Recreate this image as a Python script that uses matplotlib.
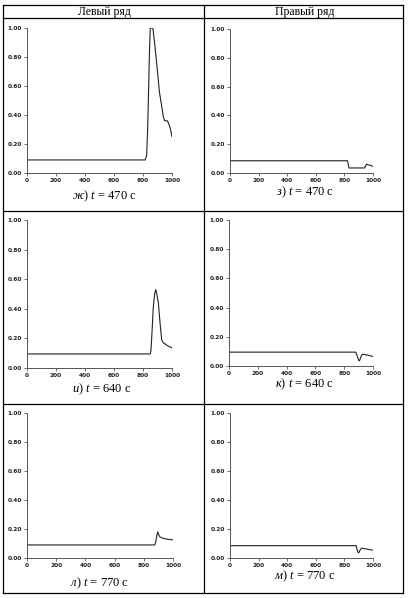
import matplotlib
matplotlib.use("Agg")
import matplotlib.pyplot as plt
from matplotlib.lines import Line2D

plt.rcParams['mathtext.fontset'] = 'custom'
plt.rcParams['mathtext.rm'] = 'Liberation Serif'
plt.rcParams['mathtext.it'] = 'Liberation Serif:italic'

W, H = 413, 598

# Данные
x_zh = [0, 815, 825, 832, 838, 845, 850, 868, 883, 899, 913, 929, 940, 949, 968, 981, 990, 1000]
y_zh = [0.09, 0.09, 0.12, 0.30, 0.55, 0.85, 1.00, 1.00, 0.87, 0.71, 0.56, 0.46, 0.39, 0.36, 0.36, 0.33, 0.30, 0.25]

x_z = [0, 822, 827, 832, 942, 948, 956, 966, 980, 1000]
y_z = [0.085, 0.085, 0.06, 0.035, 0.035, 0.05, 0.062, 0.056, 0.054, 0.046]

x_i = [0, 850, 855, 862, 871, 880, 888, 895, 906, 917, 929, 940, 963, 980, 1000]
y_i = [0.095, 0.095, 0.12, 0.24, 0.41, 0.50, 0.53, 0.50, 0.44, 0.31, 0.19, 0.17, 0.155, 0.145, 0.135]

x_k = [0, 880, 890, 900, 906, 915, 925, 935, 960, 1000]
y_k = [0.095, 0.095, 0.07, 0.04, 0.035, 0.06, 0.08, 0.08, 0.075, 0.065]

x_l = [0, 875, 882, 888, 895, 902, 911, 934, 960, 1000]
y_l = [0.09, 0.09, 0.11, 0.15, 0.18, 0.16, 0.145, 0.135, 0.13, 0.125]

x_m = [0, 882, 888, 895, 900, 910, 919, 953, 1000]
y_m = [0.085, 0.085, 0.06, 0.04, 0.035, 0.055, 0.068, 0.062, 0.054]

x_ticks = [0, 200, 400, 600, 800, 1000]
y_ticks = [0.0, 0.2, 0.4, 0.6, 0.8, 1.0]

headers = ["Левый ряд", "Правый ряд"]
captions = [r"$ж$) $t$ = 470 с", r"$з$) $t$ = 470 с",
            r"$и$) $t$ = 640 с", r"$к$) $t$ = 640 с",
            r"$л$) $t$ = 770 с", r"$м$) $t$ = 770 с"]

fig = plt.figure(figsize=(W / 100, H / 100), dpi=100)


def fx(px):
    return px / W


def fy(py):
    return 1 - py / H


# таблица
lw_t = 0.9
for py in [5, 18, 211, 404, 593]:
    fig.add_artist(Line2D([fx(3), fx(403)], [fy(py), fy(py)], color='black', lw=lw_t))
for px in [3, 204, 403]:
    fig.add_artist(Line2D([fx(px), fx(px)], [fy(5), fy(593)], color='black', lw=lw_t))

fig.text(fx(104), fy(12), headers[0], ha='center', va='center',
         family='Liberation Serif', fontsize=8.5)
fig.text(fx(305), fy(12), headers[1], ha='center', va='center',
         family='Liberation Serif', fontsize=8.5)

# (left, right, top, bottom) в пикселях и подпись
panels = [
    (x_zh, y_zh, (27, 172, 28, 173), (104, 196)),
    (x_z, y_z, (230, 373, 29, 173), (305, 192)),
    (x_i, y_i, (27, 172, 220, 368), (102, 389)),
    (x_k, y_k, (229, 373, 220, 366), (304, 384)),
    (x_l, y_l, (27, 173, 413, 558), (100, 583)),
    (x_m, y_m, (230, 373, 413, 558), (305, 576)),
]

for (xs, ys, (l, r, t, b), (cx, cy)), cap in zip(panels, captions):
    ax = fig.add_axes([fx(l), fy(b), (r - l) / W, (b - t) / H])
    ax.plot(xs, ys, color='#222222', lw=0.8)
    ax.set_xlim(0, 1000)
    ax.set_ylim(0, 1.0)
    ax.spines['top'].set_visible(False)
    ax.spines['right'].set_visible(False)
    for s in ['left', 'bottom']:
        ax.spines[s].set_color('#555555')
        ax.spines[s].set_linewidth(0.7)
    ax.set_xticks(x_ticks)
    ax.set_xticklabels([str(v) for v in x_ticks])
    ax.set_yticks(y_ticks)
    ax.set_yticklabels([f"{v:.2f}" for v in y_ticks])
    ax.tick_params(length=2, width=0.6, colors='#555555', pad=1.5,
                   labelsize=4.2, labelcolor='#222222')
    for lab in ax.get_xticklabels() + ax.get_yticklabels():
        lab.set_fontweight('bold')
    ax.patch.set_alpha(0)
    fig.text(fx(cx), fy(cy), cap, ha='center', va='center',
             family='Liberation Serif', fontsize=9)

fig.savefig("out.png", dpi=100)
